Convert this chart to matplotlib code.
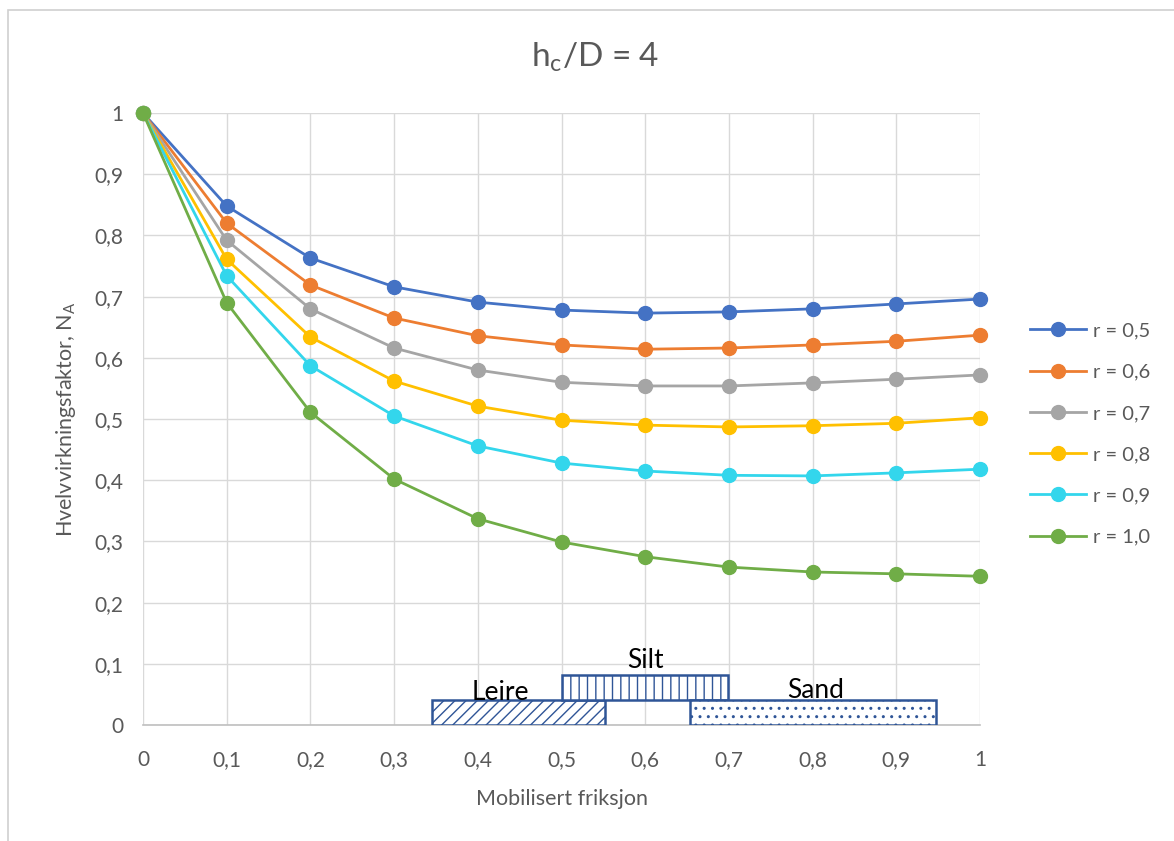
import matplotlib
matplotlib.use("Agg")
import matplotlib.pyplot as plt
from matplotlib.patches import Rectangle
from matplotlib.lines import Line2D

plt.rcParams['font.family'] = ['Lato', 'DejaVu Sans']
plt.rcParams['hatch.linewidth'] = 1.0

x = [0, 0.1, 0.2, 0.3, 0.4, 0.5, 0.6, 0.7, 0.8, 0.9, 1.0]
r05 = [1, 0.848, 0.763, 0.716, 0.691, 0.678, 0.673, 0.675, 0.680, 0.688, 0.696]
r06 = [1, 0.820, 0.719, 0.665, 0.636, 0.621, 0.614, 0.616, 0.621, 0.627, 0.637]
r07 = [1, 0.792, 0.680, 0.616, 0.580, 0.560, 0.554, 0.554, 0.559, 0.565, 0.572]
r08 = [1, 0.761, 0.634, 0.562, 0.521, 0.498, 0.490, 0.487, 0.489, 0.493, 0.502]
r09 = [1, 0.734, 0.587, 0.505, 0.456, 0.428, 0.415, 0.408, 0.407, 0.412, 0.418]
r10 = [1, 0.690, 0.511, 0.402, 0.337, 0.299, 0.275, 0.258, 0.250, 0.247, 0.243]
labels = ['r = 0,5', 'r = 0,6', 'r = 0,7', 'r = 0,8', 'r = 0,9', 'r = 1,0']
colors = ['#4472C4', '#ED7D31', '#A5A5A5', '#FFC000', '#33D6EC', '#70AD47']

soil_names = ['Leire', 'Silt', 'Sand']
soil_x0 = [0.345, 0.50, 0.654]
soil_x1 = [0.552, 0.699, 0.947]
soil_y0 = [0.0, 0.041, 0.0]
soil_y1 = [0.041, 0.082, 0.041]
soil_hatch = ['///', '||', '..']

fig = plt.figure(figsize=(11.74, 8.41), dpi=100)
# outer chart border
fig.patches.append(Rectangle((8/1174, -0.1), 1.2, 1.1 - 10/841, transform=fig.transFigure,
                             fill=False, edgecolor='#D0D0D0', linewidth=1.2))
ax = fig.add_axes([143/1174, 1 - 725/841, (980 - 143)/1174, (725 - 113)/841])

series = [r05, r06, r07, r08, r09, r10]
for ys, c, lab in zip(series, colors, labels):
    ax.plot(x, ys, color=c, linewidth=2.0, marker='o', markersize=10, label=lab,
            zorder=3, clip_on=False)

for name, a, b, y0, y1, h in zip(soil_names, soil_x0, soil_x1, soil_y0, soil_y1, soil_hatch):
    ax.add_patch(Rectangle((a, y0), b - a, y1 - y0, facecolor='white', edgecolor='#2F5597',
                           hatch=h, linewidth=1.8, zorder=4))
ax.text(0.427, 0.053, 'Leire', fontsize=19, ha='center', va='center', zorder=5)
ax.text(0.600, 0.106, 'Silt', fontsize=19, ha='center', va='center', zorder=5)
ax.text(0.804, 0.057, 'Sand', fontsize=19, ha='center', va='center', zorder=5)

ax.set_xlim(0, 1)
ax.set_ylim(0, 1)
ax.set_xticks(x)
ax.set_xticklabels(['0', '0,1', '0,2', '0,3', '0,4', '0,5', '0,6', '0,7', '0,8', '0,9', '1'])
ax.set_yticks(x)
ax.set_yticklabels(['0', '0,1', '0,2', '0,3', '0,4', '0,5', '0,6', '0,7', '0,8', '0,9', '1'])
ax.tick_params(axis='both', length=0, labelsize=15, labelcolor='#595959')
ax.tick_params(axis='x', pad=18)
ax.tick_params(axis='y', pad=14)
ax.grid(True, color='#D9D9D9', linewidth=1.0, zorder=0)
ax.set_axisbelow(True)
for s in ['top', 'right', 'left']:
    ax.spines[s].set_visible(False)
ax.spines['bottom'].set_color('#BFBFBF')
ax.spines['bottom'].set_linewidth(1.2)

ax.set_xlabel('Mobilisert friksjon', fontsize=15.5, color='#595959', labelpad=14)
ax.set_ylabel('Hvelvvirkningsfaktor, N$_\\mathregular{A}$', fontsize=15.5, color='#595959', labelpad=12)
fig.text(595/1174, 1 - 57/841, 'h$_\\mathregular{c}$/D = 4', fontsize=24, color='#595959',
         ha='center', va='center')

handles = [Line2D([0], [0], color=c, linewidth=2.0, marker='o', markersize=10) for c in colors]
fig.legend(handles, labels, loc='center left', bbox_to_anchor=(1030/1174, 1 - 434/841),
           frameon=False, fontsize=14.5, labelcolor='#595959', handlelength=2.8,
           labelspacing=1.2, handletextpad=0.35, borderpad=0, borderaxespad=0)

fig.savefig('out.png', dpi=100, facecolor='white')
